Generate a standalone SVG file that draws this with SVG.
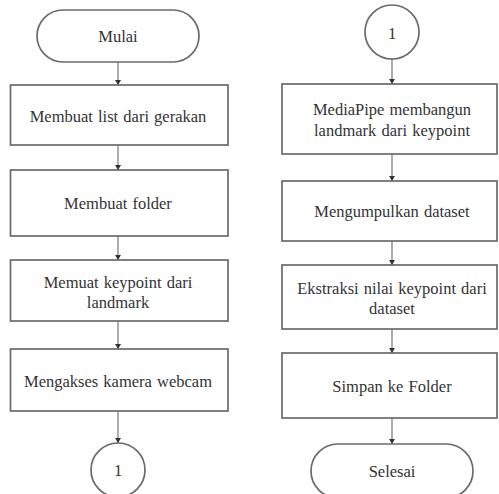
<svg xmlns="http://www.w3.org/2000/svg" width="499" height="494" viewBox="0 0 499 494">
<defs>
<marker id="ah" markerWidth="6" markerHeight="6" refX="5" refY="3" orient="auto" markerUnits="userSpaceOnUse">
<path d="M0,0 L5,3 L0,6 Z" fill="#333"/>
</marker>
<style>
.n{fill:#fff;stroke:#6a6a6a;stroke-width:1.7}
.t{font-family:'Liberation Serif','Times New Roman',Times,'DejaVu Serif',serif;font-size:16.5px;fill:#333;text-anchor:middle;word-spacing:1px}
.c line{stroke:#777;stroke-width:1.2;marker-end:url(#ah)}
</style>
</defs>
<rect width="499" height="494" fill="#fff"/>
<g class="c" id="connectors">
<line x1="118" y1="62" x2="118" y2="85"/>
<line x1="118" y1="145" x2="118" y2="170"/>
<line x1="118" y1="236" x2="118" y2="260"/>
<line x1="118" y1="321" x2="118" y2="349"/>
<line x1="118" y1="411" x2="118" y2="443"/>
<line x1="392" y1="59" x2="392" y2="84"/>
<line x1="392" y1="154" x2="392" y2="181"/>
<line x1="392" y1="241" x2="392" y2="265"/>
<line x1="392" y1="329" x2="392" y2="353"/>
<line x1="392" y1="418" x2="392" y2="444"/>
</g>
<g id="mulai"><rect class="n" x="37" y="10" width="162" height="52" rx="26"/><text class="t" x="118" y="42">Mulai</text></g>
<g id="l1"><rect class="n" x="10.5" y="85" width="217.5" height="60"/><text class="t" x="118" y="122">Membuat list dari gerakan</text></g>
<g id="l2"><rect class="n" x="10.5" y="170" width="217.5" height="66"/><text class="t" x="118" y="209">Membuat folder</text></g>
<g id="l3"><rect class="n" x="10.5" y="260" width="217.5" height="61"/><text class="t" x="118" y="288">Memuat keypoint dari</text><text class="t" x="118" y="308">landmark</text></g>
<g id="l4"><rect class="n" x="10.5" y="349" width="217.5" height="62"/><text class="t" x="118" y="387">Mengakses kamera webcam</text></g>
<g id="c1"><circle class="n" cx="118" cy="470" r="27"/><text class="t" x="118" y="476">1</text></g>
<g id="c2"><circle class="n" cx="392" cy="32" r="27"/><text class="t" x="392" y="39">1</text></g>
<g id="r1"><rect class="n" x="282" y="84" width="215" height="70"/><text class="t" x="392" y="115">MediaPipe membangun</text><text class="t" x="392" y="136">landmark dari keypoint</text></g>
<g id="r2"><rect class="n" x="282" y="181" width="215" height="60"/><text class="t" x="392" y="217">Mengumpulkan dataset</text></g>
<g id="r3"><rect class="n" x="282" y="265" width="215" height="64"/><text class="t" x="392" y="294">Ekstraksi nilai keypoint dari</text><text class="t" x="392" y="314">dataset</text></g>
<g id="r4"><rect class="n" x="282" y="353" width="215" height="65"/><text class="t" x="392" y="392">Simpan ke Folder</text></g>
<g id="selesai"><rect class="n" x="311" y="444" width="162" height="54" rx="27"/><text class="t" x="392" y="477">Selesai</text></g>
</svg>
